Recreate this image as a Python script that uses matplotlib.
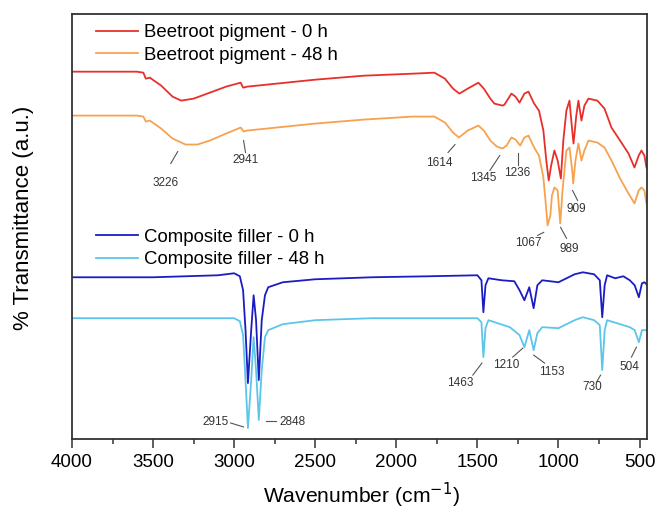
import matplotlib
matplotlib.use("Agg")
import matplotlib.pyplot as plt
from matplotlib.ticker import MultipleLocator

plt.rcParams["font.family"] = ["Liberation Sans", "DejaVu Sans"]

# FTIR spectra (wavenumber in cm-1, transmittance in a.u., stacked)
beet_0h_wn = [4000, 3600, 3560, 3545, 3520, 3450, 3380, 3327, 3250, 3150, 3050, 2960, 2945, 2920,
              2800, 2500, 2200, 1900, 1765, 1700, 1650, 1611, 1560, 1494, 1460, 1420, 1395, 1345,
              1333, 1290, 1265, 1240, 1210, 1185, 1150, 1120, 1093, 1075, 1060, 1045, 1025, 1005,
              985, 970, 951, 932, 915, 907, 890, 877, 858, 840, 815, 760, 716, 673, 620, 568, 531,
              505, 488, 470, 457]
beet_0h_t = [368, 368, 367, 361, 362, 354, 343, 339, 341, 347, 353, 357, 352, 353,
             355, 360, 364, 366, 367, 361, 351, 346, 351, 357, 351, 341, 336, 334,
             335, 346, 343, 337, 346, 348, 336, 329, 309, 279, 259, 274, 289, 279,
             261, 299, 329, 339, 309, 296, 324, 339, 319, 334, 341, 339, 331, 312, 299, 286, 272,
             284, 289, 284, 272]

beet_48h_wn = [4000, 3600, 3560, 3545, 3520, 3450, 3380, 3300, 3226, 3150, 3050, 2960, 2941, 2920,
               2800, 2500, 2200, 1900, 1765, 1700, 1650, 1614, 1560, 1494, 1460, 1420, 1380, 1345,
               1320, 1290, 1265, 1236, 1210, 1185, 1150, 1120, 1093, 1080, 1067, 1050, 1040, 1025,
               1005, 989, 975, 951, 932, 915, 909, 895, 877, 858, 840, 815, 760, 716, 673, 620,
               568, 531, 505, 488, 470, 457]
beet_48h_t = [324, 324, 323, 318, 319, 311, 301, 295, 295, 299, 306, 312, 308, 309,
              311, 316, 320, 323, 323, 317, 307, 302, 309, 314, 309, 299, 293, 291,
              294, 302, 300, 294, 302, 304, 292, 284, 262, 239, 214, 224, 244, 252,
              249, 216, 249, 289, 292, 269, 256, 279, 296, 279, 289, 299, 297, 292, 279, 261,
              246, 236, 249, 252, 249, 236]

comp_0h_wn = [4000, 3500, 3100, 3000, 2965, 2945, 2930, 2915, 2895, 2880, 2865, 2848, 2830, 2810,
              2790, 2700, 2500, 2150, 1800, 1500, 1475, 1463, 1450, 1432, 1350, 1272, 1240, 1210,
              1180, 1153, 1130, 1100, 1000, 900, 850, 780, 745, 730, 715, 700, 650, 600, 560,
              530, 504, 485, 470, 450]
comp_0h_t = [162, 162, 164, 166, 163, 149, 109, 56, 109, 144, 119, 59, 119, 144,
             152, 157, 160, 162, 163, 164, 159, 127, 154, 161, 159, 158, 149, 139,
             152, 131, 154, 159, 157, 165, 167, 165, 159, 122, 154, 164, 161, 163, 159,
             154, 142, 156, 157, 154]

comp_48h_wn = [4000, 3000, 2965, 2945, 2930, 2915, 2895, 2880, 2865, 2848, 2830, 2810, 2790, 2700,
               2500, 2150, 1500, 1475, 1463, 1450, 1432, 1300, 1240, 1210, 1180, 1153, 1130, 1100,
               1000, 900, 850, 780, 745, 730, 715, 700, 600, 560, 530, 504, 485, 460]
comp_48h_t = [121, 121, 118, 104, 59, 11, 59, 102, 69, 19, 69, 102, 109, 115,
              119, 121, 121, 117, 82, 111, 119, 112, 104, 92, 109, 89, 106, 112,
              111, 119, 122, 119, 114, 69, 109, 119, 114, 112, 109, 97, 109, 109]

# peak labels: text, leader start (wn, t), leader end (wn, t), text position (wn, t)
peak_labels = [
    ("3226", (3348, 288), (3391, 276), (3422, 256)),
    ("2941", (2942, 299), (2930, 287), (2930, 280)),
    ("1614", (1638, 295), (1681, 287), (1737, 277)),
    ("1345", (1362, 284), (1423, 269), (1466, 261)),
    ("1236", (1251, 287), (1251, 274), (1257, 266)),
    ("909", (913, 249), (882, 239), (888, 230)),
    ("1067", (1091, 207), (1128, 204), (1189, 196)),
    ("989", (987, 212), (950, 201), (931, 190)),
    ("2915", (3022, 16), (2942, 12), (3114, 17)),
    ("2848", (2801, 18), (2745, 18), (2641, 17)),
    ("1463", (1472, 76), (1528, 64), (1608, 56)),
    ("1210", (1220, 91), (1282, 82), (1319, 74)),
    ("1153", (1153, 84), (1085, 76), (1042, 67)),
    ("730", (740, 64), (765, 57), (790, 52)),
    ("504", (519, 92), (550, 82), (562, 72)),
]

fig, ax = plt.subplots(figsize=(6.56, 5.11), dpi=100)
fig.subplots_adjust(left=0.1098, right=0.986, top=0.973, bottom=0.141)

l1, = ax.plot(beet_0h_wn, beet_0h_t, color="#e8302a", lw=1.3, label="Beetroot pigment - 0 h")
l2, = ax.plot(beet_48h_wn, beet_48h_t, color="#f7a24e", lw=1.3, label="Beetroot pigment - 48 h")
l4, = ax.plot(comp_48h_wn, comp_48h_t, color="#5cc6ea", lw=1.3, label="Composite filler - 48 h")
l3, = ax.plot(comp_0h_wn, comp_0h_t, color="#1c1cc4", lw=1.3, label="Composite filler - 0 h")

for txt, p0, p1, pt in peak_labels:
    ax.plot([p0[0], p1[0]], [p0[1], p1[1]], color="#555555", lw=0.8)
    ax.text(pt[0], pt[1], txt, fontsize=8.5, color="#333333", ha="center", va="center")

leg_kw = dict(loc="upper left", frameon=False, fontsize=13.4, handlelength=2.25,
              handletextpad=0.32, borderpad=0, borderaxespad=0, labelspacing=0.28)
leg1 = ax.legend(handles=[l1, l2], bbox_to_anchor=(0.042, 0.975), **leg_kw)
ax.add_artist(leg1)
ax.legend(handles=[l3, l4], bbox_to_anchor=(0.042, 0.494), **leg_kw)

ax.set_xlim(4000, 455)
ax.set_ylim(0, 426)
ax.xaxis.set_major_locator(MultipleLocator(500))
ax.xaxis.set_minor_locator(MultipleLocator(250))
ax.tick_params(axis="x", which="major", direction="out", length=6.5, width=1.1,
               labelsize=13.5, pad=4, color="#333333")
ax.tick_params(axis="x", which="minor", direction="out", length=3.5, width=1.1, color="#333333")
ax.set_yticks([])
ax.set_xlabel("Wavenumber (cm$^{-1}$)", fontsize=15.2)
ax.set_ylabel("% Transmittance (a.u.)", fontsize=16)
ax.xaxis.set_label_coords(0.503, -0.099)
ax.yaxis.set_label_coords(-0.066, 0.521)
for s in ax.spines.values():
    s.set_linewidth(1.3)
    s.set_color("#333333")

fig.savefig("out.png", dpi=100)
